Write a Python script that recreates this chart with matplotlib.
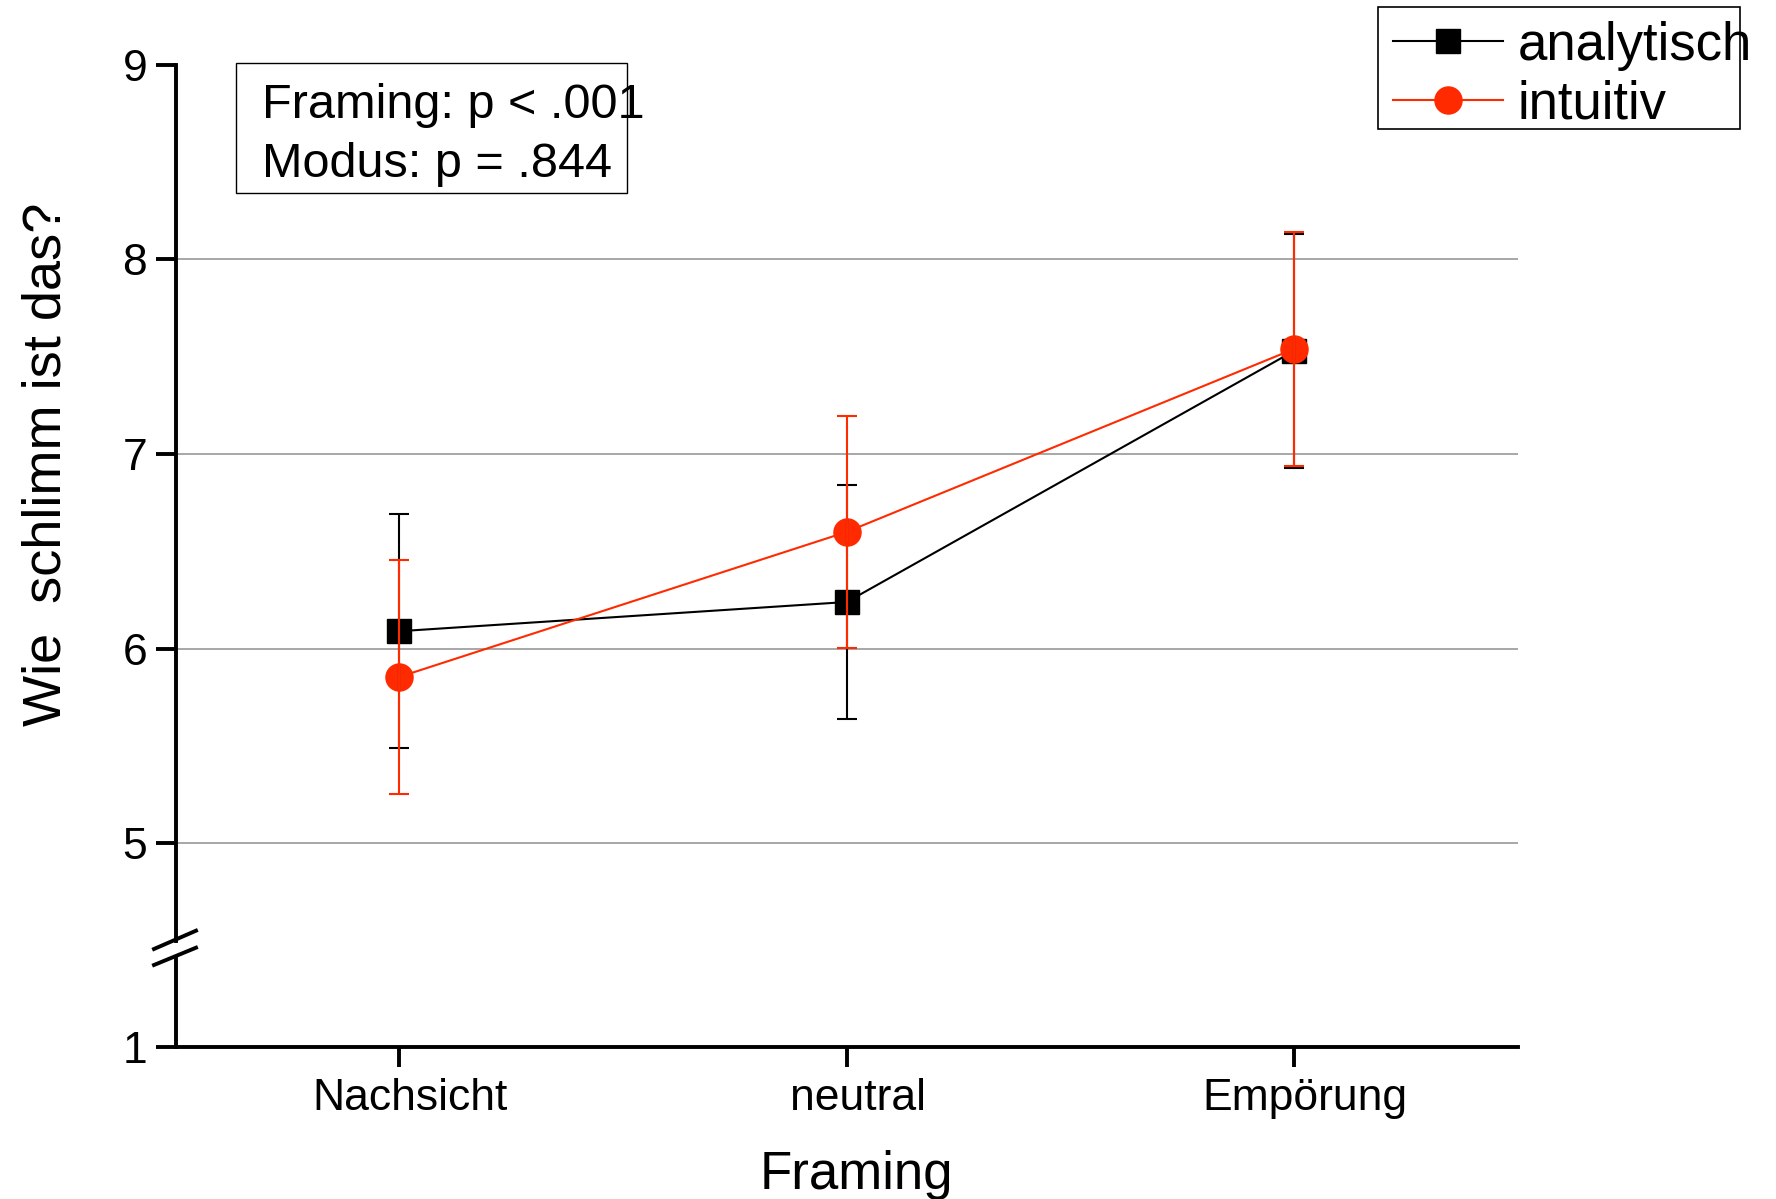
import numpy as np
import matplotlib
matplotlib.use('Agg')
import matplotlib.pyplot as plt
from matplotlib.patches import Rectangle
from matplotlib.lines import Line2D
import matplotlib.transforms as mtransforms

# ---------------- data ----------------
categories = ['Nachsicht', 'neutral', 'Empörung']
analytisch_mean = [6.09, 6.24, 7.53]
analytisch_err = [0.60, 0.60, 0.60]
intuitiv_mean = [5.855, 6.60, 7.54]
intuitiv_err = [0.60, 0.595, 0.60]
series_labels = ['analytisch', 'intuitiv']
yticks_top = [5, 6, 7, 8, 9]
grid_levels = [5, 6, 7, 8]
yticks_bottom = [1]
stats_lines = ['Framing: p < .001', 'Modus: p = .844']
xlabel = 'Framing'
ylabel = 'Wie  schlimm ist das?'

plt.rcParams['font.family'] = ['Liberation Sans', 'DejaVu Sans']

W, H = 1776, 1199
fig = plt.figure(figsize=(W / 100, H / 100), dpi=100)


def fx(x):
    return x / W


def fy(y):
    return 1 - y / H


RED = '#ff2a00'
BLACK = '#000000'
SPINE_LW = 2.8
left_px, right_px = 175.5, 1518
top_px, brk_top_px = 64.6, 940.8
brk_bot_px, bot_px = 957, 1047
unit_px = (brk_top_px - top_px) / (9 - 4.5)

ax = fig.add_axes([fx(left_px), fy(brk_top_px), fx(right_px) - fx(left_px),
                   fy(top_px) - fy(brk_top_px)])
axb = fig.add_axes([fx(left_px), fy(bot_px), fx(right_px) - fx(left_px),
                    fy(brk_bot_px) - fy(bot_px)])

x = np.arange(len(categories))

for a in (ax, axb):
    a.set_xlim(-0.5, len(categories) - 0.5)
    a.spines['top'].set_visible(False)
    a.spines['right'].set_visible(False)
    a.spines['left'].set_linewidth(SPINE_LW)
    a.spines['bottom'].set_linewidth(SPINE_LW)
    a.tick_params(axis='both', direction='out', length=14.4, width=SPINE_LW,
                  labelsize=32, colors='black')
    a.tick_params(axis='y', pad=6)
    a.tick_params(axis='x', pad=8)
    a.set_facecolor('none')

# top axes
ax.set_ylim(4.5, 9)
ax.set_yticks(yticks_top)
ax.spines['bottom'].set_visible(False)
ax.set_xticks([])
for g in grid_levels:
    ax.axhline(g, color='#a0a0a0', lw=1.3, zorder=0)

# bottom axes
axb.set_ylim(1, 1 + (bot_px - brk_bot_px) / unit_px)
axb.set_yticks(yticks_bottom)
axb.set_xticks(x)
axb.set_xticklabels(categories)
offset = mtransforms.ScaledTranslation(11 / 100, 0, fig.dpi_scale_trans)
for lab in axb.get_xticklabels():
    lab.set_transform(lab.get_transform() + offset)

# data lines with markers
l1, = ax.plot(x, analytisch_mean, color=BLACK, lw=1.5, marker='s', ms=17,
              mfc=BLACK, mec=BLACK, zorder=3, label=series_labels[0])
l2, = ax.plot(x, intuitiv_mean, color=RED, lw=1.5, marker='o', ms=19.5,
              mfc=RED, mec=RED, zorder=4, label=series_labels[1])
ax.errorbar(x, analytisch_mean, yerr=analytisch_err, fmt='none', ecolor=BLACK,
            elinewidth=1.5, capsize=7, capthick=1.5, zorder=5)
ax.errorbar(x, intuitiv_mean, yerr=intuitiv_err, fmt='none', ecolor=RED,
            elinewidth=1.5, capsize=7, capthick=1.5, zorder=6)

# axis labels
ax.set_ylabel(ylabel, fontsize=39)
ax.yaxis.set_label_coords((71.5 - left_px) / (right_px - left_px),
                          (brk_top_px - 464.5) / (brk_top_px - top_px))
axb.set_xlabel(xlabel, fontsize=38)
axb.xaxis.set_label_coords((856 - left_px) / (right_px - left_px),
                           -(1149.5 - bot_px) / (bot_px - brk_bot_px))

# axis break marks
for (x0, y0, x1, y1) in [(154, 949, 196, 930.7), (154, 965, 196, 947.7)]:
    fig.add_artist(Line2D([fx(x0), fx(x1)], [fy(y0), fy(y1)], color='black',
                          lw=SPINE_LW, transform=fig.transFigure))

# statistics box
fig.add_artist(Rectangle((fx(235.5), fy(192.7)), fx(627.3) - fx(235.5),
                         fy(62.7) - fy(192.7), transform=fig.transFigure,
                         fill=False, ec='black', lw=1.0))
for txt, base in zip(stats_lines, [118.3, 176.7]):
    fig.text(fx(262), fy(base), txt, fontsize=35, va='baseline', ha='left')

# legend
fig.add_artist(Rectangle((fx(1378), fy(129)), fx(1740) - fx(1378),
                         fy(6.7) - fy(129), transform=fig.transFigure,
                         fill=False, ec='black', lw=1.2))
leg = fig.legend(handles=[l1, l2], labels=series_labels, loc='upper left',
                 bbox_to_anchor=(fx(1393), fy(20.7)), bbox_transform=fig.transFigure,
                 frameon=False, fontsize=38, handlelength=2.08,
                 handletextpad=0.28, labelspacing=0.17, borderpad=0,
                 borderaxespad=0)

fig.savefig('out.png', dpi=100)
